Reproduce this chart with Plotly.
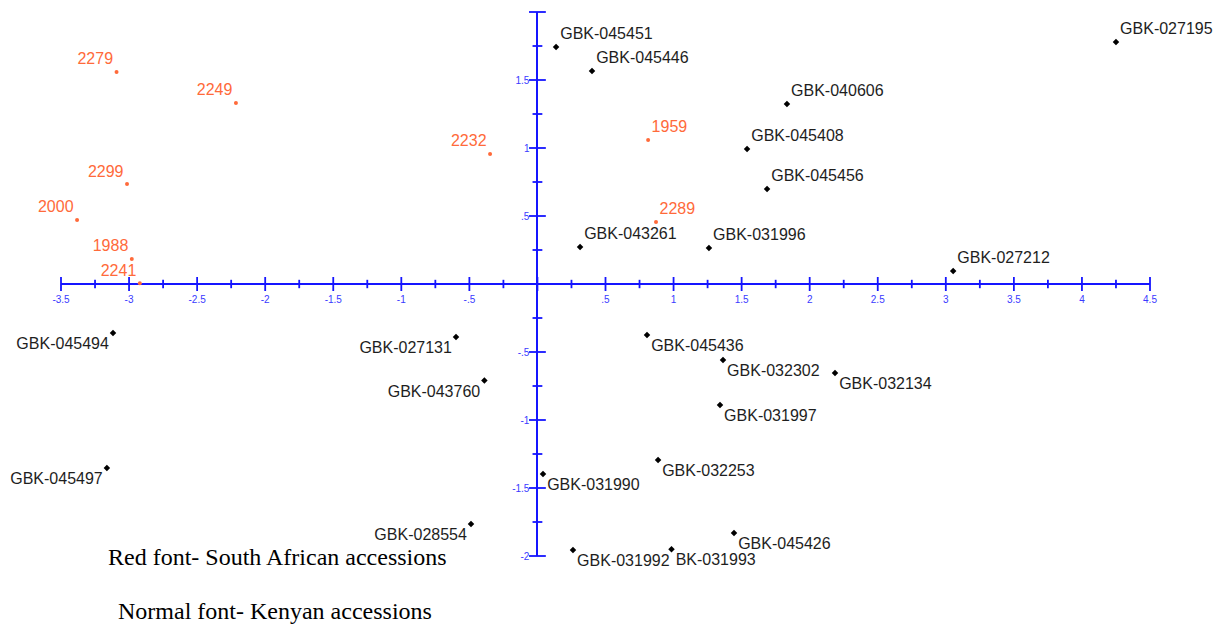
import numpy as np
import plotly.graph_objects as go

# ---- data ----
kenyan_labels = ["GBK-045451", "GBK-045446", "GBK-027195", "GBK-040606", "GBK-045408",
                 "GBK-045456", "GBK-043261", "GBK-031996", "GBK-027212", "GBK-045494",
                 "GBK-027131", "GBK-043760", "GBK-045436", "GBK-032302", "GBK-032134",
                 "GBK-031997", "GBK-045497", "GBK-031990", "GBK-032253", "GBK-028554",
                 "GBK-045426", "GBK-031992", "BK-031993"]
kenyan_x = [0.137, 0.401, 4.25, 1.833, 1.54, 1.687, 0.313, 1.26, 3.054, -3.118,
            -0.598, -0.39, 0.805, 1.363, 2.186, 1.341, -3.163, 0.041, 0.886, -0.488,
            1.444, 0.261, 0.985]
kenyan_y = [1.743, 1.566, 1.78, 1.324, 0.993, 0.699, 0.272, 0.265, 0.096, -0.36,
            -0.39, -0.71, -0.375, -0.559, -0.654, -0.89, -1.353, -1.397, -1.294, -1.765,
            -1.831, -1.956, -1.95]

sa_labels = ["2279", "2249", "2232", "1959", "2299", "2000", "2289", "1988", "2241"]
sa_x = [-3.092, -2.215, -0.348, 0.813, -3.015, -3.382, 0.871, -2.98, -2.921]
sa_y = [1.559, 1.331, 0.956, 1.059, 0.735, 0.471, 0.456, 0.184, 0.005]

x_ticks = [-3.5, -3, -2.5, -2, -1.5, -1, -0.5, 0.5, 1, 1.5, 2, 2.5, 3, 3.5, 4, 4.5]
x_tick_text = ["-3.5", "-3", "-2.5", "-2", "-1.5", "-1", "-.5", ".5", "1", "1.5",
               "2", "2.5", "3", "3.5", "4", "4.5"]
y_ticks = [-2, -1.5, -1, -0.5, 0.5, 1, 1.5, 2]
y_tick_text = ["-2", "-1.5", "-1", "-.5", ".5", "1", "1.5", "2"]

captions = ["Red font- South African accessions", "Normal font- Kenyan accessions"]

X_RANGE = [-3.5, 4.5]
Y_RANGE = [-2, 2]

BLUE = "#1515ff"
RED = "#ff6a3a"
DARK = "#1e1e1e"


def pos_kenyan(x, y):
    if y >= 0:
        return "top right"
    return "bottom left" if x < 0 else "bottom right"


def pos_sa(x, y):
    return "top left" if x < 0 else "top right"


fig = go.Figure()

# tick marks crossing the axes
major_x = np.arange(X_RANGE[0], X_RANGE[1] + 0.01, 0.5)
minor_x = np.arange(X_RANGE[0] + 0.25, X_RANGE[1], 0.5)
major_y = np.arange(Y_RANGE[0], Y_RANGE[1] + 0.01, 0.5)
minor_y = np.arange(Y_RANGE[0] + 0.25, Y_RANGE[1], 0.5)

for xs, size in [(major_x, 10), (minor_x, 6)]:
    fig.add_trace(go.Scatter(x=xs, y=np.zeros_like(xs), mode="markers",
                             marker=dict(symbol="line-ns", size=size,
                                         line=dict(color=BLUE, width=1.8)),
                             hoverinfo="skip", cliponaxis=False))
for ys, size in [(major_y, 12), (minor_y, 7)]:
    fig.add_trace(go.Scatter(x=np.zeros_like(ys), y=ys, mode="markers",
                             marker=dict(symbol="line-ew", size=size,
                                         line=dict(color=BLUE, width=1.8)),
                             hoverinfo="skip", cliponaxis=False))

fig.add_trace(go.Scatter(
    x=kenyan_x, y=kenyan_y, text=kenyan_labels, mode="markers+text",
    textposition=[pos_kenyan(a, b) for a, b in zip(kenyan_x, kenyan_y)],
    marker=dict(symbol="diamond", size=5, color="black"),
    textfont=dict(family="Liberation Sans, Arial", size=16, color=DARK),
    cliponaxis=False, hoverinfo="text"))

fig.add_trace(go.Scatter(
    x=sa_x, y=sa_y, text=sa_labels, mode="markers+text",
    textposition=[pos_sa(a, b) for a, b in zip(sa_x, sa_y)],
    marker=dict(symbol="circle", size=4, color=RED),
    textfont=dict(family="Liberation Sans, Arial", size=16, color=RED),
    cliponaxis=False, hoverinfo="text"))

tickfont = dict(family="Liberation Sans, Arial", size=10, color="#3a3aff")

# page body has a default 8px margin, so the figure is 8px smaller on each axis
fig.update_layout(
    width=1217, height=618,
    margin=dict(l=53, r=75, t=4, b=70, autoexpand=False),
    paper_bgcolor="white", plot_bgcolor="white",
    showlegend=False,
    xaxis=dict(range=X_RANGE, showgrid=False, zeroline=True, zerolinecolor=BLUE,
               zerolinewidth=2, showline=False, anchor="free", automargin=False,
               position=(0 - Y_RANGE[0]) / (Y_RANGE[1] - Y_RANGE[0]),
               tickmode="array", tickvals=x_ticks, ticktext=x_tick_text,
               ticks="", ticklabelstandoff=8, tickfont=tickfont),
    yaxis=dict(range=Y_RANGE, showgrid=False, zeroline=True, zerolinecolor=BLUE,
               zerolinewidth=2, showline=False, anchor="free", automargin=False,
               position=(0 - X_RANGE[0]) / (X_RANGE[1] - X_RANGE[0]),
               tickmode="array", tickvals=y_ticks, ticktext=y_tick_text,
               ticks="", ticklabelstandoff=8, tickfont=tickfont),
)

fig.add_annotation(text=captions[0], xref="paper", yref="paper", x=0.0413, y=-0.002,
                   xanchor="left", yanchor="middle", showarrow=False,
                   font=dict(family="Liberation Serif, Times New Roman", size=24, color="black"))
fig.add_annotation(text=captions[1], xref="paper", yref="paper", x=0.0505, y=-0.101,
                   xanchor="left", yanchor="middle", showarrow=False,
                   font=dict(family="Liberation Serif, Times New Roman", size=24, color="black"))

fig.write_html("out.html")
